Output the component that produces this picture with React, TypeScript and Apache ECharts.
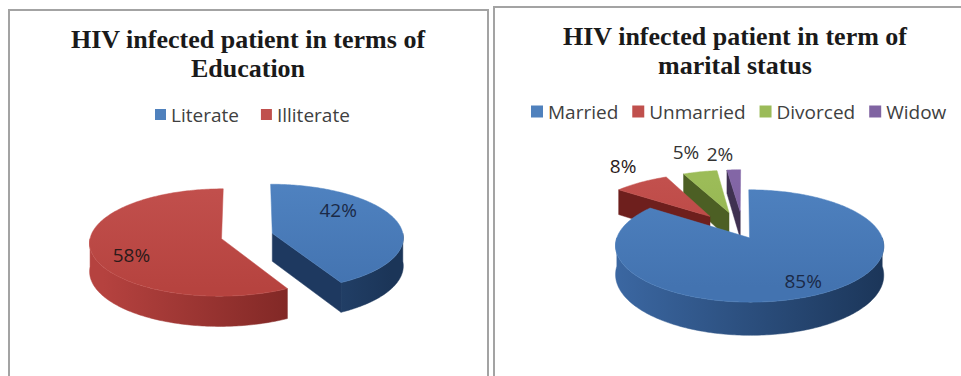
import React, { useEffect, useRef } from "react";
import * as echarts from "echarts";

// ---------- data ----------
const eduTitle = "HIV infected patient in terms of\nEducation";
const eduCategories = ["Literate", "Illiterate"];
const eduValues = [42, 58];

const maritalTitle = "HIV infected patient in term of\nmarital status";
const maritalCategories = ["Married", "Unmarried", "Divorced", "Widow"];
const maritalValues = [85, 8, 5, 2];

// ---------- styles ----------
type Shade = { legend: string; top: string; topDark: string; wallLight: string; wallDark: string; face: string; label: string };
const BLUE: Shade = { legend: "#4f81bd", top: "#4f82c0", topDark: "#4373b0", wallLight: "#3d6aa6", wallDark: "#1b3558", face: "#1e3960", label: "#1b2a47" };
const RED: Shade = { legend: "#c0504d", top: "#c2504d", topDark: "#b6433f", wallLight: "#b5423f", wallDark: "#651a18", face: "#6e1f1d", label: "#2b1a1a" };
const GREEN: Shade = { legend: "#9bbb59", top: "#9cbc58", topDark: "#8cae4a", wallLight: "#76953c", wallDark: "#48591f", face: "#4c5f24", label: "#333333" };
const PURPLE: Shade = { legend: "#8064a2", top: "#8366a6", topDark: "#735896", wallLight: "#65508a", wallDark: "#3a2d4d", face: "#3f3151", label: "#333333" };

const eduShades = [BLUE, RED];
const maritalShades = [BLUE, RED, GREEN, PURPLE];

type LabelPos = { angle: number | null; r: number };
type Geom = { cx: number; cy: number; rx: number; ry: number; h: number; D: number; explode: number[]; labels: LabelPos[] };

const eduGeom: Geom = {
  cx: 247, cy: 236, rx: 131, ry: 53, h: 28, D: 14,
  explode: [0.2, 0.2],
  labels: [{ angle: 48.9, r: 0.7 }, { angle: 245.9, r: 0.73 }],
};
const maritalGeom: Geom = {
  cx: 743.5, cy: 233, rx: 131, ry: 53.6, h: 28, D: 7,
  explode: [0.1, 0.42, 0.42, 0.42],
  labels: [
    { angle: null, r: 0.79 },
    { angle: 324.6, r: 1.47 },
    { angle: null, r: 1.59 },
    { angle: 352.1, r: 1.46 },
  ],
};

const LABEL_FONT = '19px "Open Sans", sans-serif';

function makeRenderItem(values: number[], shades: Shade[], g: Geom) {
  const total = values.reduce((a, b) => a + b, 0);
  let acc = 0;
  const slices = values.map((v, i) => {
    const a = (acc / total) * Math.PI * 2;
    acc += v;
    const b = (acc / total) * Math.PI * 2;
    const m = (a + b) / 2;
    const e = g.explode[i] || 0;
    return { a, b, m, ox: e * Math.sin(m), oy: e * Math.cos(m), pct: Math.round((v / total) * 100) };
  });
  // back slices first
  const order = slices.map((s, i) => ({ i, d: s.oy + 0.5 * Math.cos(s.m) })).sort((p, q) => q.d - p.d);
  const rank: number[] = [];
  order.forEach((o, k) => (rank[o.i] = k));

  const P = (u: number, v: number, z: number): number[] => {
    const s = g.D / (g.D + v);
    return [g.cx + s * u * g.rx, g.cy - s * v * g.ry + s * z * g.h];
  };
  const arc = (s: any, from: number, to: number, z: number) => {
    const pts: number[][] = [];
    const n = Math.max(2, Math.ceil(Math.abs(to - from) / (Math.PI / 180)));
    for (let k = 0; k <= n; k++) {
      const t = from + ((to - from) * k) / n;
      pts.push(P(s.ox + Math.sin(t), s.oy + Math.cos(t), z));
    }
    return pts;
  };

  return (params: any, api: any) => {
    const i = params.dataIndex;
    const s = slices[i];
    const sh = shades[i];
    const base = rank[i] * 10;
    const children: any[] = [];
    const wallGrad = new echarts.graphic.LinearGradient(
      g.cx - g.rx * 1.1, 0, g.cx + g.rx * 1.1, 0,
      [{ offset: 0, color: sh.wallLight }, { offset: 1, color: sh.wallDark }],
      true
    );
    const apexT = P(s.ox, s.oy, 0);
    const apexB = P(s.ox, s.oy, 1);
    // radial faces
    if (Math.sin(s.a) < -0.001) {
      const et = P(s.ox + Math.sin(s.a), s.oy + Math.cos(s.a), 0);
      const eb = P(s.ox + Math.sin(s.a), s.oy + Math.cos(s.a), 1);
      children.push({ type: "polygon", z2: base + 1, shape: { points: [apexT, et, eb, apexB] }, style: { fill: sh.face, stroke: sh.face, lineWidth: 0.5 } });
    }
    if (Math.sin(s.b) > 0.001) {
      const et = P(s.ox + Math.sin(s.b), s.oy + Math.cos(s.b), 0);
      const eb = P(s.ox + Math.sin(s.b), s.oy + Math.cos(s.b), 1);
      children.push({ type: "polygon", z2: base + 1, shape: { points: [apexT, et, eb, apexB] }, style: { fill: sh.face, stroke: sh.face, lineWidth: 0.5 } });
    }
    // outer wall (front half)
    const lo = Math.max(s.a, Math.PI / 2);
    const hi = Math.min(s.b, (Math.PI * 3) / 2);
    if (hi > lo) {
      const top = arc(s, lo, hi, 0);
      const bot = arc(s, hi, lo, 1);
      children.push({ type: "polygon", z2: base + 2, shape: { points: top.concat(bot) }, style: { fill: wallGrad, stroke: wallGrad, lineWidth: 0.5 } });
    }
    // top face
    const topGrad = new echarts.graphic.LinearGradient(
      0, g.cy - g.ry, 0, g.cy + g.ry,
      [{ offset: 0, color: sh.top }, { offset: 1, color: sh.topDark }],
      true
    );
    const topPts = [apexT].concat(arc(s, s.a, s.b, 0));
    children.push({ type: "polygon", z2: base + 3, shape: { points: topPts }, style: { fill: topGrad, stroke: sh.top, lineWidth: 0.5 } });
    // label
    const lp = g.labels[i];
    const la = lp.angle == null ? s.m : (lp.angle * Math.PI) / 180;
    const lpt = P(s.ox + lp.r * Math.sin(la), s.oy + lp.r * Math.cos(la), 0);
    children.push({
      type: "text", z2: 100, x: lpt[0], y: lpt[1],
      style: { text: s.pct + "%", font: LABEL_FONT, fill: sh.label, align: "center", verticalAlign: "middle" },
    });
    return { type: "group", children };
  };
}

export default function App() {
  const ref = useRef<HTMLDivElement>(null);
  useEffect(() => {
    if (!ref.current) return;
    const chart = echarts.init(ref.current, null, { renderer: "svg" });
    const legendText = { fontFamily: '"Open Sans", sans-serif', fontSize: 19, color: "#404040" };
    const titleText = { fontFamily: '"Liberation Serif", "Times New Roman", serif', fontWeight: "bold" as const, fontSize: 26, lineHeight: 29, color: "#1a1a1a" };
    chart.setOption({
      animation: false,
      backgroundColor: "#ffffff",
      graphic: [
        { type: "rect", shape: { x: 9, y: 10, width: 479, height: 400 }, style: { fill: "none", stroke: "#a3a3a3", lineWidth: 2 }, silent: true },
        { type: "rect", shape: { x: 494, y: 7, width: 520, height: 400 }, style: { fill: "none", stroke: "#a3a3a3", lineWidth: 2 }, silent: true },
      ],
      title: [
        { text: eduTitle, left: 248, top: 25, textAlign: "center", padding: 0, textStyle: titleText },
        { text: maritalTitle, left: 735, top: 22, textAlign: "center", padding: 0, textStyle: titleText },
      ],
      legend: [
        { data: eduCategories, left: 155, top: 105, padding: 0, icon: "rect", itemWidth: 11, itemHeight: 11, itemGap: 22, selectedMode: false, textStyle: legendText },
        { data: maritalCategories, left: 531, top: 102, padding: 0, icon: "rect", itemWidth: 12, itemHeight: 12, itemGap: 14, selectedMode: false, textStyle: legendText },
      ],
      series: [
        {
          type: "custom", name: "edu3d", coordinateSystem: "none", silent: true,
          data: eduValues, renderItem: makeRenderItem(eduValues, eduShades, eduGeom),
        },
        {
          type: "custom", name: "marital3d", coordinateSystem: "none", silent: true,
          data: maritalValues, renderItem: makeRenderItem(maritalValues, maritalShades, maritalGeom),
        },
        {
          type: "pie", name: "eduLegend", center: [-50, -50], radius: [0, 0.5], silent: true,
          label: { show: false }, labelLine: { show: false },
          data: eduCategories.map((n, i) => ({ name: n, value: eduValues[i], itemStyle: { color: eduShades[i].legend } })),
        },
        {
          type: "pie", name: "maritalLegend", center: [-50, -50], radius: [0, 0.5], silent: true,
          label: { show: false }, labelLine: { show: false },
          data: maritalCategories.map((n, i) => ({ name: n, value: maritalValues[i], itemStyle: { color: maritalShades[i].legend } })),
        },
      ],
    });
    return () => chart.dispose();
  }, []);
  return <div ref={ref} style={{ position: "absolute", left: 0, top: 0, width: 961, height: 376 }} />;
}
